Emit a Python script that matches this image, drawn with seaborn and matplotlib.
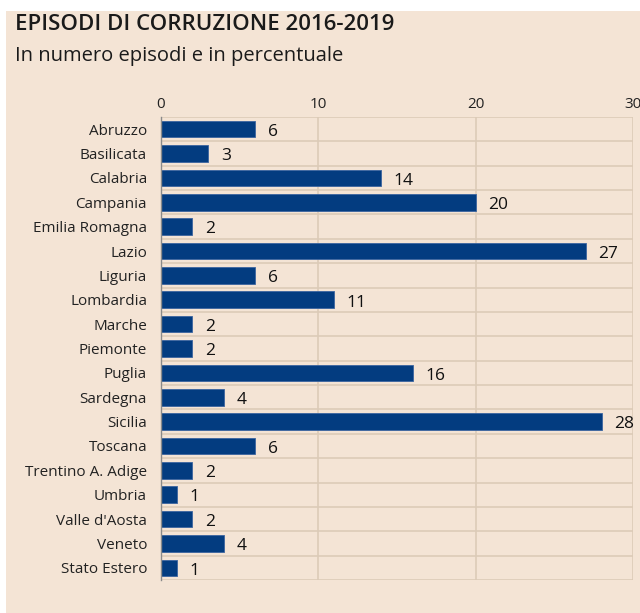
import matplotlib
matplotlib.use("Agg")
import matplotlib.pyplot as plt
import seaborn as sns
import pandas as pd
from matplotlib.patches import Rectangle

regions = ["Abruzzo", "Basilicata", "Calabria", "Campania", "Emilia Romagna", "Lazio",
           "Liguria", "Lombardia", "Marche", "Piemonte", "Puglia", "Sardegna", "Sicilia",
           "Toscana", "Trentino A. Adige", "Umbria", "Valle d'Aosta", "Veneto", "Stato Estero"]
episodes = [6, 3, 14, 20, 2, 27, 6, 11, 2, 2, 16, 4, 28, 6, 2, 1, 2, 4, 1]
x_ticks = [0, 10, 20, 30]

title = "EPISODI DI CORRUZIONE 2016-2019"
subtitle = "In numero episodi e in percentuale"

BG = "#f4e4d5"
GRID = "#dccbb8"
BAR = "#033c80"
TXT = "#222222"

sns.set_theme(style="white")
plt.rcParams["font.family"] = ["Open Sans", "DejaVu Sans"]

df = pd.DataFrame({"region": regions, "episodes": episodes})

W, H = 640, 613
fig = plt.figure(figsize=(W / 100, H / 100), dpi=100, facecolor="white")
fig.patches.append(Rectangle((6 / W, 0), 1 - 6 / W, 1 - 11 / H, transform=fig.transFigure,
                             facecolor=BG, edgecolor="none", zorder=-10))

ax = fig.add_axes([161 / W, 1 - 580 / H, (633 - 161) / W, (580 - 117) / H])
ax.set_facecolor(BG)

sns.barplot(data=df, x="episodes", y="region", orient="h", color=BAR, width=0.68,
            edgecolor="#3b64a0", linewidth=0.6, saturation=1, ax=ax, zorder=3)

ax.set_xlim(0, 30)
ax.set_ylim(len(regions) - 0.5, -0.5)
ax.set_xticks(x_ticks)
ax.xaxis.tick_top()
ax.tick_params(axis="x", length=0, pad=3.5, labelsize=11, labelcolor=TXT)
ax.tick_params(axis="y", length=0, pad=10, labelsize=11, labelcolor=TXT)
ax.set_xlabel("")
ax.set_ylabel("")

# grid lines
for xv in x_ticks[1:]:
    ax.axvline(xv, color=GRID, lw=1.2, zorder=1)
for i in range(len(regions) + 1):
    ax.axhline(i - 0.5, color=GRID, lw=1.2, zorder=1)

for s in ["top", "right", "bottom"]:
    ax.spines[s].set_visible(False)
ax.spines["left"].set_color("#8a8a8a")
ax.spines["left"].set_linewidth(1.0)
ax.spines["left"].set_zorder(4)

for i, v in enumerate(episodes):
    ax.annotate(str(v), xy=(v, i), xytext=(9, -2), textcoords="offset points",
                ha="left", va="center", fontsize=12.5, color="#111111", clip_on=False)

fig.text(15 / W, 1 - 25 / H, title, fontsize=16, fontweight="semibold", color="#1a1a1a",
         ha="left", va="center")
fig.text(15 / W, 1 - 56 / H, subtitle, fontsize=14.5, color="#1a1a1a", ha="left", va="center")

fig.savefig("out.png", dpi=100, facecolor="white")
